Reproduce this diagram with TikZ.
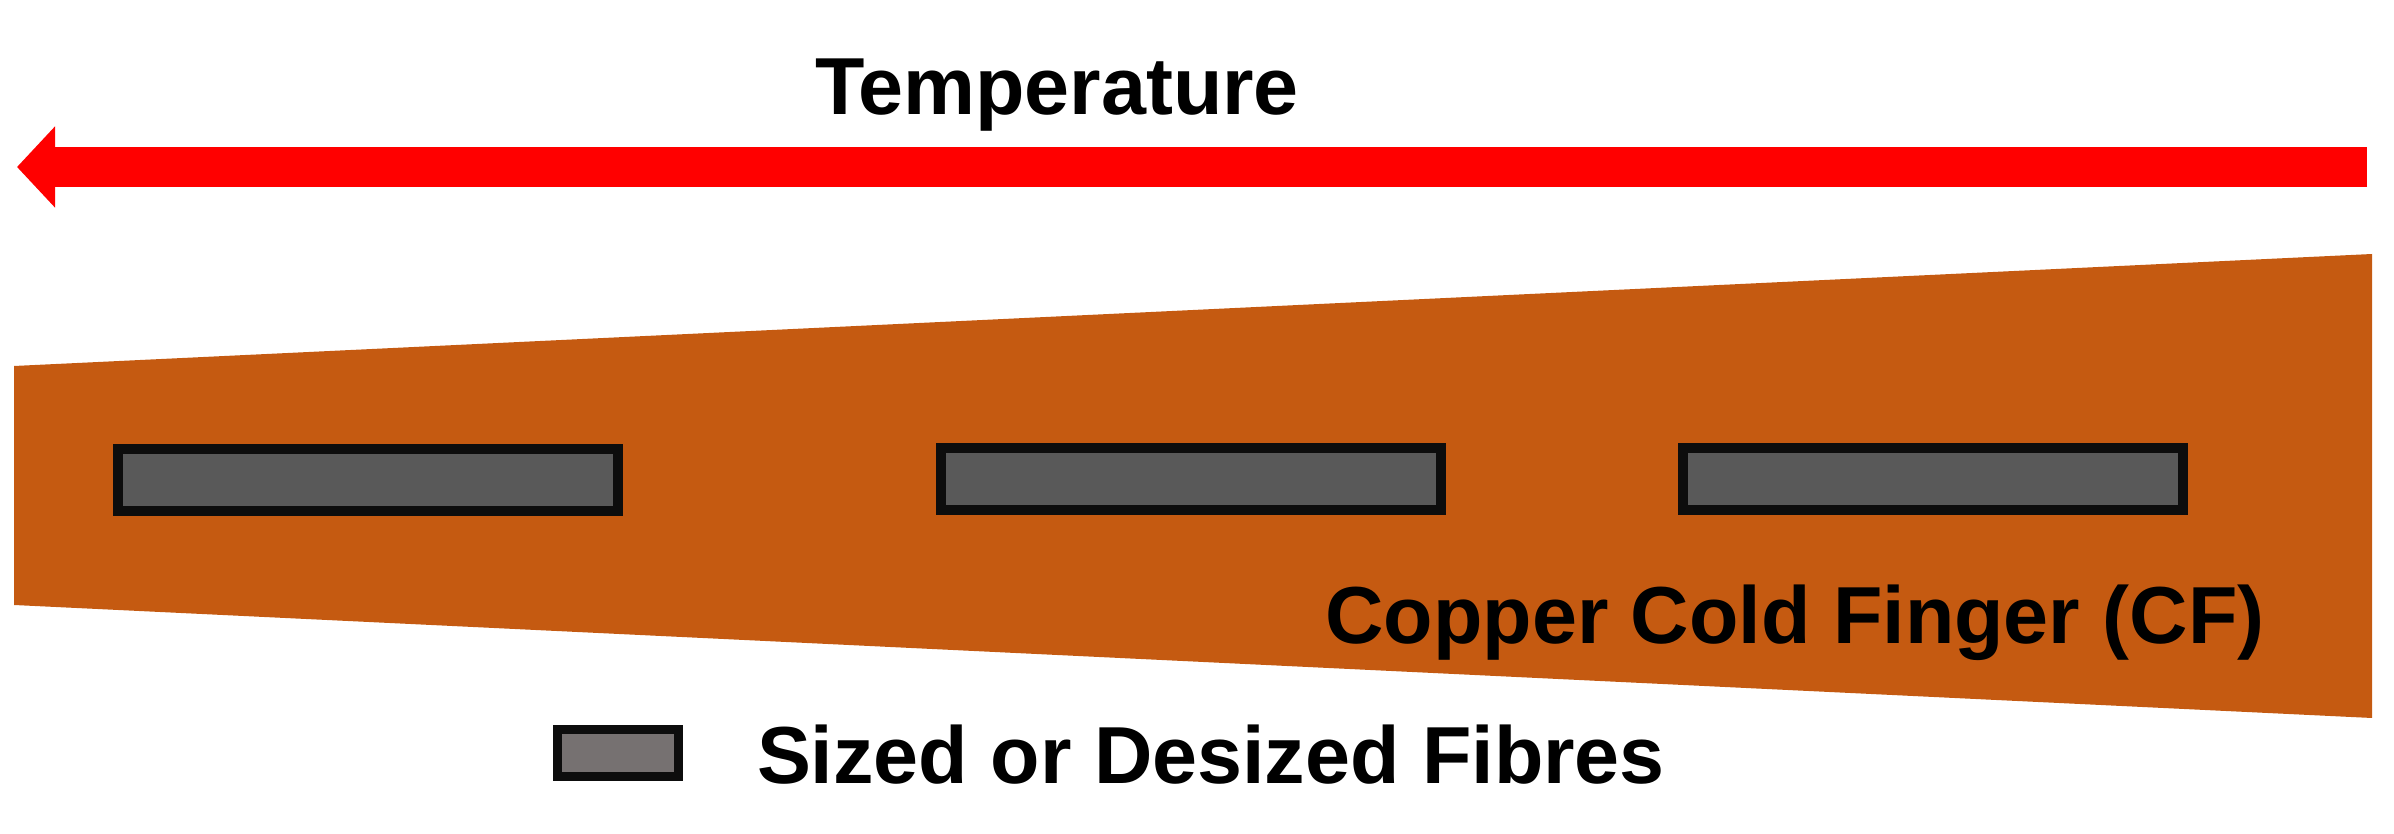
\documentclass[tikz,border=0pt]{standalone}
\usepackage{fontspec}
\setmainfont{Liberation Sans}
\usetikzlibrary{arrows.meta}
\definecolor{copper}{HTML}{C55A11}
\definecolor{fibregray}{HTML}{595959}
\definecolor{keygray}{HTML}{767171}
\definecolor{edgeblack}{HTML}{0D0D0D}
\begin{document}
\begin{tikzpicture}[x=0.01cm,y=-0.01cm,outer sep=0pt,inner sep=0pt]
			\tikzstyle{label_style} = [font=\fontsize{23pt}{27pt}\selectfont\bfseries, inner sep=0pt]
			\tikzstyle{fibre_style} = [draw=edgeblack, fill=fibregray, line width=0.1cm, minimum width=5cm, minimum height=0.62cm]
			\useasboundingbox (0,0) rectangle (2394,834);
			%%%
			\coordinate (hot) at (17,167);
			\coordinate (cold) at (2367,167);
			\draw[red, line width=0.4cm, -{Triangle[length=0.38cm, width=0.79cm]}] (cold)--(hot);
			\node[label_style, anchor=base] (temp) at (1057,115) {Temperature};
			%%%
			\fill[copper] (14,366)--(2372,254)--(2372,718)--(14,605)--cycle;
			\foreach[count=\i from=1] \g/\h in{368/480,1191/479,1933/479}{
				\node[fibre_style] (fibre-\i) at (\g,\h) {};
			}
			\node[label_style, anchor=base] (cf) at (1795,643) {Copper Cold Finger (CF)};
			%%%
			\node[draw=edgeblack, fill=keygray, line width=0.09cm, minimum width=1.21cm, minimum height=0.46cm] (key) at (618,753) {};
			\node[label_style, anchor=base west] (key-text) at (757,783) {Sized or Desized Fibres};
		\end{tikzpicture}
\end{document}
